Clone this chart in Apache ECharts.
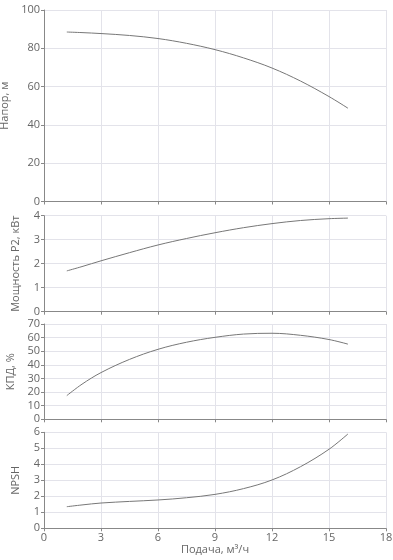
<!DOCTYPE html>
<html><head><meta charset="utf-8">
<script src="https://cdn.jsdelivr.net/npm/echarts@6/dist/echarts.min.js"></script>
<style>html,body{margin:0;padding:0;background:#fff}#c{width:393px;height:560px}</style>
</head><body><div id="c"></div>
<script>
const flow = [1.2, 2, 3, 4.5, 6, 7.5, 9, 10.5, 12, 13.5, 15, 16];
const head = [88.5, 88.2, 87.7, 86.7, 85.1, 82.6, 79.3, 75.0, 69.7, 62.9, 54.8, 48.7];
const power = [1.70, 1.88, 2.12, 2.46, 2.78, 3.05, 3.29, 3.50, 3.67, 3.80, 3.875, 3.90];
const eff = [17.4, 25.8, 34.3, 44.0, 51.4, 56.6, 60.2, 62.6, 63.2, 61.7, 58.6, 55.2];
const npsh = [1.35, 1.46, 1.58, 1.68, 1.77, 1.91, 2.12, 2.48, 3.02, 3.85, 4.94, 5.9];
const xTicks = [0, 3, 6, 9, 12, 15, 18];
const yNames = ['Напор, м', 'Мощность Р2, кВт', 'КПД, %', 'NPSH'];
const xName = 'Подача, м³/ч';

const font = '"Open Sans", sans-serif';
const lbl = {color: '#666', fontSize: 11, fontFamily: font};
const grids = [
  {left: 44, right: 7, top: 10, height: 191.5, outerBoundsMode: 'none'},
  {left: 44, right: 7, top: 215.7, height: 96, outerBoundsMode: 'none'},
  {left: 44, right: 7, top: 324, height: 95.3, outerBoundsMode: 'none'},
  {left: 44, right: 7, top: 432.3, height: 96, outerBoundsMode: 'none'}
];
const yCfg = [
  {max: 100, interval: 20, gap: 30},
  {max: 4, interval: 1, gap: 23},
  {max: 70, interval: 10, gap: 28},
  {max: 6, interval: 1, gap: 23}
];
const series = [head, power, eff, npsh];
const xAxis = grids.map((g, i) => ({
  gridIndex: i, type: 'value', min: xTicks[0], max: xTicks[xTicks.length-1], interval: 3,
  axisLine: {show: true, lineStyle: {color: '#888', width: 1}},
  axisTick: {show: true, length: 3, lineStyle: {color: '#888'}},
  axisLabel: Object.assign({show: i === 3, margin: 4}, lbl),
  splitLine: {show: true, lineStyle: {color: '#e3e3ea', width: 1}},
  name: i === 3 ? xName : '', nameLocation: 'middle', nameGap: 13,
  nameTextStyle: lbl
}));
const yAxis = grids.map((g, i) => ({
  gridIndex: i, type: 'value', min: 0, max: yCfg[i].max, interval: yCfg[i].interval,
  axisLine: {show: true, lineStyle: {color: '#888', width: 1}},
  axisTick: {show: true, length: 3, lineStyle: {color: '#888'}},
  axisLabel: Object.assign({margin: 4}, lbl),
  splitLine: {show: true, lineStyle: {color: '#e3e3ea', width: 1}},
  name: yNames[i], nameLocation: 'middle', nameGap: yCfg[i].gap, nameRotate: 90,
  nameTextStyle: lbl
}));
const chart = echarts.init(document.getElementById('c'), null, {renderer: 'canvas'});
chart.setOption({
  animation: false,
  grid: grids,
  xAxis: xAxis,
  yAxis: yAxis,
  series: series.map((s, i) => ({
    type: 'line', xAxisIndex: i, yAxisIndex: i, smooth: 0.35, symbol: 'none',
    lineStyle: {color: '#777', width: 1},
    data: flow.map((x, k) => [x, s[k]])
  }))
});
</script></body></html>
